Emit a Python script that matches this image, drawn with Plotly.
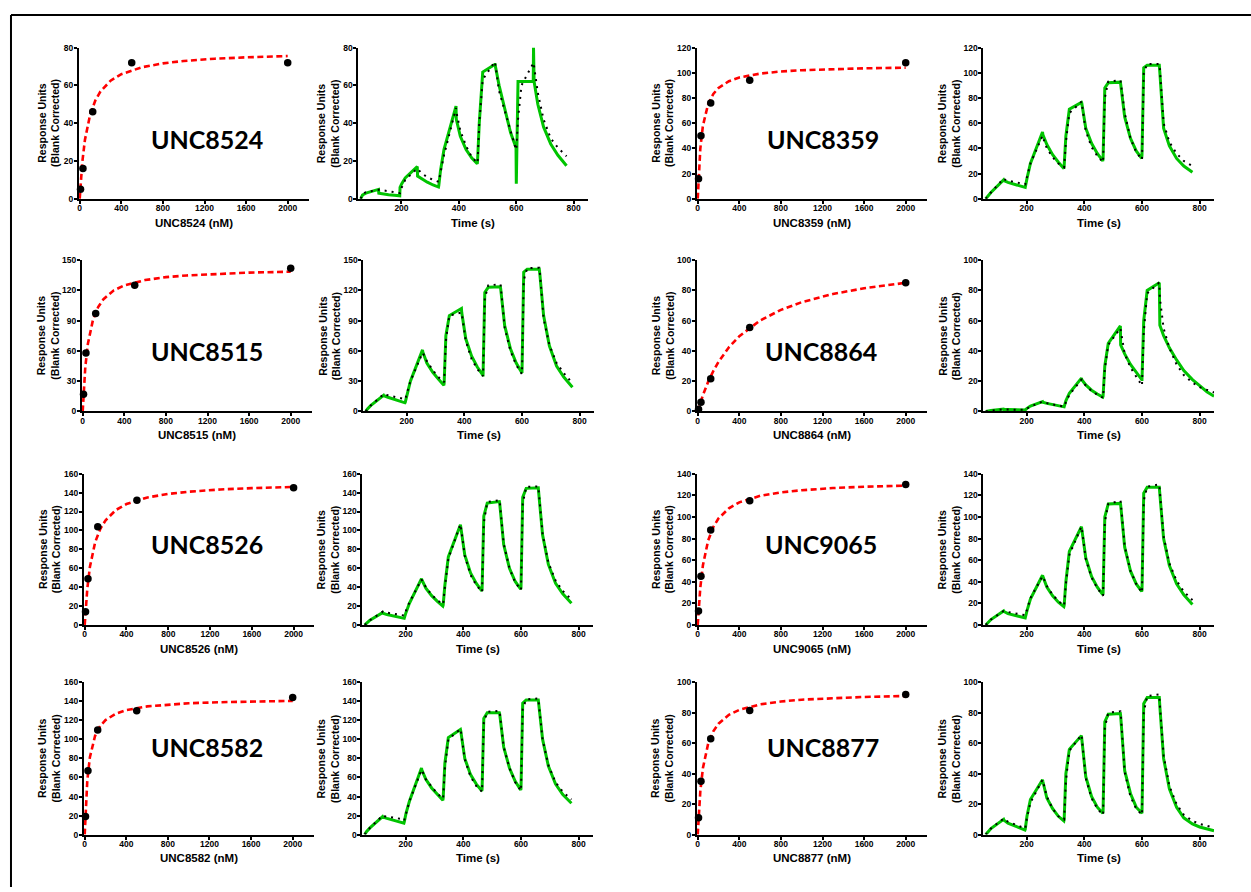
import plotly.graph_objects as go

# ---------------- data ----------------
CONC_NM = [7.8, 31.25, 125, 500, 2000]
FIT_NM = [0, 10, 25, 50, 100, 150, 200, 300, 400, 600, 800, 1000, 1300, 1600, 2000]

TIME_S = [58, 64, 76, 120, 121, 135, 155, 175, 194,
          195, 201, 213, 255, 256, 270, 290, 310, 329,
          330, 336, 348, 390, 391, 405, 425, 445, 464,
          465, 471, 483, 525, 526, 540, 560, 580, 599,
          600, 606, 618, 659, 660, 662, 675, 695, 720, 745, 775]
TIME_L = TIME_S + [800, 825, 850]

COMPOUNDS = ["UNC8524", "UNC8359", "UNC8515", "UNC8864",
             "UNC8526", "UNC9065", "UNC8582", "UNC8877"]

# steady-state response (RU) at each concentration
UNC8524_RU = [5, 16, 46, 72, 72]
UNC8359_RU = [16, 50, 76, 94, 108]
UNC8515_RU = [17, 58, 97, 125, 142]
UNC8864_RU = [1.5, 6, 21.5, 55.5, 85]
UNC8526_RU = [14, 49, 104, 132, 145]
UNC9065_RU = [13, 45, 88, 115, 130]
UNC8582_RU = [19, 67, 110, 130, 144]
UNC8877_RU = [11, 35, 63, 81.5, 92]

# fitted binding curves
UNC8524_FIT = [0, 9.1, 19.4, 31.1, 44.5, 52.0, 56.8, 62.6, 65.9, 69.6, 71.6, 72.9, 74.1, 74.8, 75.5]
UNC8359_FIT = [0, 20.6, 39.9, 58.0, 75.1, 83.2, 87.9, 93.3, 96.2, 99.3, 101.0, 102.0, 102.9, 103.5, 104.0]
UNC8515_FIT = [0, 21.6, 44.0, 67.2, 91.3, 103.7, 111.3, 120.0, 124.9, 130.2, 133.1, 134.8, 136.5, 137.6, 138.5]
UNC8864_FIT = [0, 2.3, 5.7, 10.7, 19.5, 26.7, 32.7, 42.4, 49.7, 60.1, 67.1, 72.2, 77.6, 81.4, 85.0]
UNC8526_FIT = [0, 18.2, 38.6, 61.5, 87.5, 101.8, 110.8, 121.7, 127.9, 134.9, 138.6, 141.0, 143.3, 144.7, 146.0]
UNC9065_FIT = [0, 16.5, 34.8, 55.2, 78.1, 90.7, 98.6, 108.0, 113.5, 119.5, 122.7, 124.7, 126.7, 127.9, 129.0]
UNC8582_FIT = [0, 29.8, 56.8, 81.4, 103.8, 114.3, 120.3, 127.1, 130.8, 134.7, 136.7, 138.0, 139.1, 139.9, 140.5]
UNC8877_FIT = [0, 14.0, 28.5, 43.7, 59.6, 67.8, 72.8, 78.7, 81.9, 85.5, 87.4, 88.6, 89.7, 90.4, 91.0]

# sensorgrams: green = measured, dotted = kinetic fit
UNC8524_GREEN = [0, 2, 3, 5, 3, 2.6, 2.2, 1.9, 1.6,
                 6, 8, 11, 17, 12, 10.5, 8.8, 7.3, 6.2,
                 7, 15, 26, 49, 42, 33, 26, 21.5, 18.5,
                 20, 40, 67, 71, 71, 60, 47, 35, 27,
                 8, 62, 62, 62, 80, 62, 50, 38, 29, 23, 17.5]
UNC8524_DOT = [0, 2.5, 3.5, 5, 4.8, 4.5, 4, 3.5, 3,
               3, 6, 10, 16, 16, 13.5, 11.5, 10, 9,
               9, 14, 23, 48, 46, 36, 28, 22, 19,
               19, 40, 63, 72.5, 72, 57, 46, 35, 26,
               26, 42, 60, 72, 72, 70, 56, 42, 32, 27, 22.5]
UNC8359_GREEN = [0, 2, 5, 15, 14.5, 13, 11.5, 10, 8.5,
                 9, 16, 28, 53, 51, 43, 35, 29, 24,
                 26, 50, 71, 76.5, 76, 56, 44, 36, 30,
                 32, 88, 92, 92.5, 91, 65, 48, 38, 32,
                 35, 104, 106, 106, 106, 100, 56, 42, 32, 26, 21]
UNC8359_DOT = [0, 2, 5, 16, 15.5, 14.5, 13.5, 12.5, 11.5,
               11.5, 17, 28, 50, 49, 40, 33, 28, 25,
               25, 45, 68, 77, 76, 54, 41, 34, 29,
               29, 80, 93, 94, 93, 68, 48, 37, 31,
               31, 100, 107, 107, 107, 103, 60, 45, 36, 30, 26]
UNC8515_GREEN = [0, 2.5, 6, 16, 15.5, 14, 12, 10.5, 8.5,
                 9, 17, 30, 61, 59, 48, 39, 32, 26,
                 28, 75, 95, 102, 98, 72, 55, 44, 36,
                 36, 118, 123, 123.5, 122, 85, 62, 48, 38,
                 38, 138, 141, 141, 141, 136, 95, 65, 45, 34, 24]
UNC8515_DOT = [0, 2.5, 6, 17, 16.5, 16, 14.5, 13, 12,
               12, 18, 30, 58, 58, 50, 41, 34, 29,
               29, 70, 95, 98, 97, 70, 52, 42, 35,
               35, 112, 125, 126, 125, 83, 60, 46, 37,
               37, 130, 142, 142.5, 142.5, 138, 92, 66, 48, 38, 28]
UNC8864_GREEN = [0, 0.3, 0.6, 1.5, 1.3, 1.2, 1.0, 0.9, 0.8,
                 1, 2, 3.5, 6.5, 6, 5.3, 4.5, 3.8, 3,
                 3, 7, 12, 22, 21, 17.5, 14, 11.5, 9.5,
                 10, 30, 45, 56.5, 44, 38, 31, 25.5, 21,
                 21, 60, 80, 85, 85, 57, 50, 42, 34, 27, 21, 17, 13, 10]
UNC8864_DOT = [0, 0.2, 0.5, 1.3, 1.3, 1.2, 1.1, 1, 0.9,
               1, 1.8, 3.2, 6.5, 6.4, 5.5, 4.6, 3.8, 3.2,
               3.2, 6, 11, 21, 21, 17, 13.5, 11, 9,
               9, 28, 44, 55, 54, 38, 29, 23, 17,
               17, 52, 78, 85, 85, 75, 55, 42, 31, 24, 19, 16, 14, 12.5]
UNC8526_GREEN = [0, 2, 5, 13, 12.5, 11, 9.5, 8, 6.5,
                 7, 13, 23, 49, 48, 39, 31, 25, 20,
                 21, 42, 72, 106, 104, 74, 55, 44, 36,
                 37, 115, 129, 130.5, 129, 85, 60, 46, 38,
                 39, 135, 144.5, 145, 145, 138, 95, 64, 44, 33, 23]
UNC8526_DOT = [0, 2, 5, 14, 13.5, 13, 12, 11, 10,
               10, 15, 24, 48, 47.5, 40, 32, 26, 22,
               22, 40, 70, 106.5, 105, 73, 53, 42, 35,
               35, 108, 130, 132, 131, 86, 60, 45, 37,
               37, 128, 146, 146.5, 146.5, 140, 96, 66, 47, 36, 27]
UNC9065_GREEN = [0, 2, 5, 13, 12.5, 10.5, 9, 7.5, 6,
                 6.5, 13, 24, 46, 45, 35, 27, 21, 17,
                 18, 40, 68, 91, 89, 62, 45, 35, 28,
                 29, 100, 112, 112.5, 111, 72, 50, 38, 31,
                 32, 122, 127.5, 127.5, 127.5, 121, 80, 55, 38, 28, 19]
UNC9065_DOT = [0, 2, 5, 13, 13, 12, 11, 10, 9,
               9, 14, 25, 45, 45, 36, 28, 22, 18,
               18, 38, 65, 91, 90, 61, 44, 34, 27,
               27, 95, 112, 115, 114, 73, 50, 38, 30,
               30, 115, 128, 130, 130, 123, 82, 57, 41, 31, 23]
UNC8582_GREEN = [0, 3, 7, 19, 18.5, 17, 15.5, 14, 12,
                 13, 22, 35, 70, 68, 58, 49, 42, 36,
                 38, 75, 102, 110.5, 109, 80, 63, 53, 46,
                 47, 122, 128, 128, 127, 92, 70, 56, 47,
                 48, 138, 141.5, 141.5, 141.5, 136, 100, 72, 53, 42, 33]
UNC8582_DOT = [0, 3, 7, 20, 19.5, 19, 18, 17, 16,
               15, 22, 35, 68, 68, 58, 50, 43, 38,
               38, 70, 100, 111, 110, 79, 61, 51, 45,
               45, 118, 129, 130, 129, 92, 70, 55, 46,
               46, 132, 142, 143, 143, 137, 100, 73, 55, 45, 37]
UNC8877_GREEN = [0, 1.5, 4, 10, 9.5, 7.5, 6, 4.5, 3,
                 3.5, 12, 23, 36, 35, 24, 17, 12, 9,
                 10, 40, 56, 65, 63, 38, 25, 18, 14,
                 15, 74, 79, 79.5, 78, 42, 27, 18, 14,
                 14, 86, 90, 90, 90, 84, 50, 30, 18, 11, 7, 5, 3.5, 2.5]
UNC8877_DOT = [0, 1.5, 4, 10.5, 10, 8.5, 7, 5.5, 4,
               4, 11, 21, 36, 35.5, 25, 17, 12, 10,
               10, 35, 55, 65.5, 64, 37, 24, 17, 13,
               13, 70, 80, 81, 80, 41, 25, 17, 13,
               13, 80, 91, 92, 92, 85, 52, 32, 20, 13, 9, 7, 5.5, 4.5]

# axis maxima and tick steps (y)
Y_MAX = [80, 120, 150, 100, 160, 140, 160, 100]
Y_STEP = [20, 20, 30, 20, 20, 20, 20, 20]
BIND_TICKS = [0, 400, 800, 1200, 1600, 2000]
TIME_TICKS = [200, 400, 600, 800]

RU = [UNC8524_RU, UNC8359_RU, UNC8515_RU, UNC8864_RU, UNC8526_RU, UNC9065_RU, UNC8582_RU, UNC8877_RU]
FITS = [UNC8524_FIT, UNC8359_FIT, UNC8515_FIT, UNC8864_FIT, UNC8526_FIT, UNC9065_FIT, UNC8582_FIT, UNC8877_FIT]
GREENS = [UNC8524_GREEN, UNC8359_GREEN, UNC8515_GREEN, UNC8864_GREEN, UNC8526_GREEN, UNC9065_GREEN, UNC8582_GREEN, UNC8877_GREEN]
DOTS = [UNC8524_DOT, UNC8359_DOT, UNC8515_DOT, UNC8864_DOT, UNC8526_DOT, UNC9065_DOT, UNC8582_DOT, UNC8877_DOT]
TIMES = [TIME_S, TIME_S, TIME_S, TIME_L, TIME_S, TIME_S, TIME_S, TIME_L]

# ---------------- layout (pixels) ----------------
W, H = 1251, 892
ROW_Y = [(43, 196), (258, 411), (474, 627), (685, 839)]
COL_X = [
    [(77, 307), (80, 310), (82, 313), (82, 312)],
    [(357, 587), (362, 593), (361, 592), (361, 592)],
    [(696, 926)] * 4,
    [(983, 1214)] * 4,
]
LABEL_POS = [(205, 136), (822, 136), (205, 350), (820, 350),
             (205, 545), (820, 545), (205, 750), (822, 750)]

FONT = "Liberation Sans, Arial, sans-serif"
px = lambda v: v / W
py = lambda v: 1 - v / H

fig = go.Figure()
layout = dict(width=W, height=H, margin=dict(l=0, r=0, t=0, b=0),
              paper_bgcolor="white", plot_bgcolor="white", showlegend=False)
annotations = []

axis_base = dict(showline=True, linecolor="black", linewidth=2, ticks="outside",
                 ticklen=3, tickwidth=1.5, tickcolor="black", showgrid=False,
                 zeroline=False,
                 tickfont=dict(family=FONT, size=8.5, color="black", weight="bold"))

n = 0
for i, name in enumerate(COMPOUNDS):
    row, side = divmod(i, 2)
    ytop, ybot = ROW_Y[row]
    for kind in (0, 1):
        n += 1
        col = 2 * side + kind
        x0, x1 = COL_X[col][row]
        xa = "x" if n == 1 else f"x{n}"
        ya = "y" if n == 1 else f"y{n}"
        xkey = "xaxis" if n == 1 else f"xaxis{n}"
        ykey = "yaxis" if n == 1 else f"yaxis{n}"
        if kind == 0:
            fig.add_trace(go.Scatter(x=FIT_NM, y=FITS[i], mode="lines", xaxis=xa, yaxis=ya,
                                     line=dict(color="#ff0000", width=2.6, dash="6px,3.5px"),
                                     cliponaxis=False, hoverinfo="skip"))
            fig.add_trace(go.Scatter(x=CONC_NM, y=RU[i], mode="markers", xaxis=xa, yaxis=ya,
                                     marker=dict(color="black", size=7.5),
                                     cliponaxis=False))
            xrange, xticks = [-8, 2200], BIND_TICKS
            xtitle = f"{name} (nM)"
        else:
            fig.add_trace(go.Scatter(x=TIMES[i], y=GREENS[i], mode="lines", xaxis=xa, yaxis=ya,
                                     line=dict(color="#00c400", width=3),
                                     cliponaxis=False))
            fig.add_trace(go.Scatter(x=TIMES[i], y=DOTS[i], mode="lines", xaxis=xa, yaxis=ya,
                                     line=dict(color="black", width=2, dash="2px,5px"),
                                     cliponaxis=False))
            xrange, xticks = [50, 850], TIME_TICKS
            xtitle = "Time (s)"
        layout[xkey] = dict(axis_base, domain=[px(x0), px(x1)], anchor=ya,
                            range=xrange, tickvals=xticks, ticklabelstandoff=-3)
        layout[ykey] = dict(axis_base, domain=[py(ybot), py(ytop)], anchor=xa,
                            range=[0, Y_MAX[i]], dtick=Y_STEP[i], tick0=0,
                            ticklabelstandoff=-1)
        # axis titles
        annotations.append(dict(x=px((x0 + x1) / 2), y=py(ybot + 24), xref="paper", yref="paper",
                                text=xtitle, showarrow=False, xanchor="center", yanchor="middle",
                                font=dict(family=FONT, size=11.5, color="black", weight="bold")))
        off = 34 if Y_MAX[i] >= 100 else 30
        annotations.append(dict(x=px(x0 - off), y=py((ytop + ybot) / 2), xref="paper", yref="paper",
                                text="Response Units<br>(Blank Corrected)", textangle=-90,
                                showarrow=False, xanchor="center", yanchor="middle",
                                font=dict(family=FONT, size=10.5, color="black", weight="bold")))
    lx, ly = LABEL_POS[i]
    annotations.append(dict(x=px(lx), y=py(ly), xref="paper", yref="paper", text=name,
                            showarrow=False, xanchor="center", yanchor="middle",
                            font=dict(family="Lato, Open Sans, sans-serif", size=25,
                                      color="black", weight="bold")))

layout["annotations"] = annotations
layout["shapes"] = [
    dict(type="line", xref="paper", yref="paper", x0=px(9), x1=1, y0=py(10), y1=py(10),
         line=dict(color="black", width=2)),
    dict(type="line", xref="paper", yref="paper", x0=px(9), x1=px(9), y0=py(10), y1=0,
         line=dict(color="black", width=2)),
]
fig.update_layout(**layout)

fig.write_html("out.html", config={"displayModeBar": False},
               post_script="document.body.style.margin='0';document.body.style.overflow='hidden';")
